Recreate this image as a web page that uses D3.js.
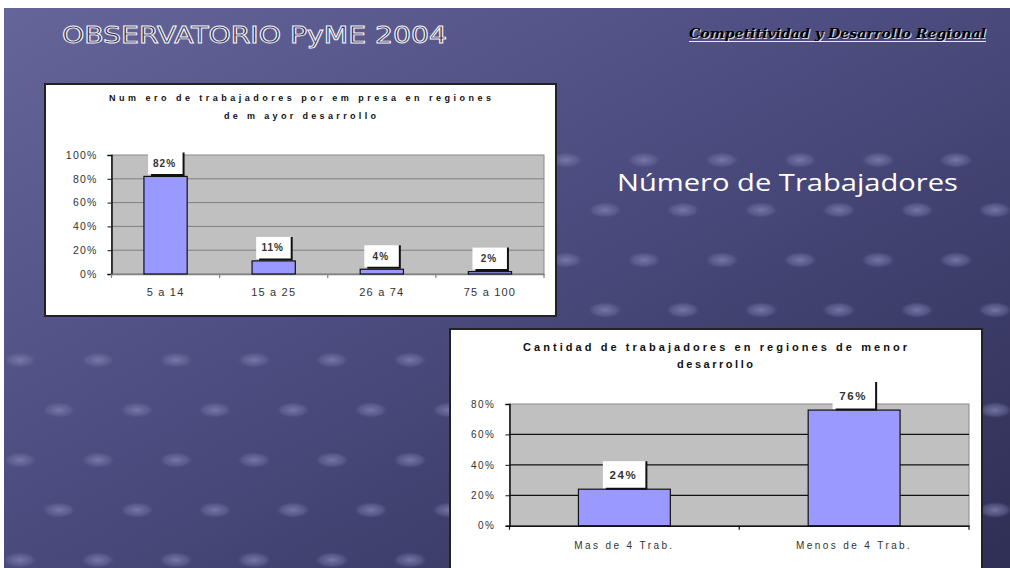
<!DOCTYPE html>
<html><head><meta charset="utf-8">
<script src="https://cdn.jsdelivr.net/npm/d3@7"></script>
<style>html,body{margin:0;padding:0;background:#fff;}svg{display:block;}</style>
</head><body>
<svg id="c" width="1010" height="568"></svg>
<script>
// ---- data ----
const cats1 = ["5 a 14", "15 a 25", "26 a 74", "75 a 100"];
const vals1 = [82, 11, 4, 2];
const ticks1 = [0, 20, 40, 60, 80, 100];
const title1 = ["Num ero de trabajadores por em presa en regiones", "de m ayor desarrollo"];

const cats2 = ["Mas de 4 Trab.", "Menos de 4 Trab."];
const vals2 = [24, 76];
const ticks2 = [0, 20, 40, 60, 80];
const title2 = ["Cantidad de trabajadores en regiones de menor", "desarrollo"];

const svg = d3.select("#c");
const defs = svg.append("defs");
const g = defs.append("linearGradient").attr("id", "bg").attr("x1", "0").attr("y1", "0").attr("x2", "1").attr("y2", "1");
g.append("stop").attr("offset", "0").attr("stop-color", "#65659a");
g.append("stop").attr("offset", "0.45").attr("stop-color", "#4c4c80");
g.append("stop").attr("offset", "1").attr("stop-color", "#2f2f55");
const rg = defs.append("radialGradient").attr("id", "dot");
rg.append("stop").attr("offset", "0").attr("stop-color", "#8080b0").attr("stop-opacity", 0.85);
rg.append("stop").attr("offset", "0.7").attr("stop-color", "#6a6a9c").attr("stop-opacity", 0.5);
rg.append("stop").attr("offset", "1").attr("stop-color", "#55558a").attr("stop-opacity", 0);

svg.append("rect").attr("x", 4).attr("y", 8).attr("width", 1006).attr("height", 560).attr("fill", "url(#bg)");

// decorative soft dots
const dots = [];
for (let r = 0; r < 9; r++) for (let c = 0; c < 14; c++) {
  const x = 20 + c * 78 + (r % 2) * 39, y = 160 + r * 50;
  if (y > 330 || x > 560) dots.push([x, y]);
}
svg.append("g").selectAll("ellipse").data(dots).join("ellipse")
  .attr("cx", d => d[0]).attr("cy", d => d[1]).attr("rx", 17).attr("ry", 8).attr("fill", "url(#dot)");

// header
svg.append("text").attr("x", 62).attr("y", 43).attr("textLength", 385).attr("lengthAdjust", "spacingAndGlyphs")
  .attr("font-family", "DejaVu Sans Condensed, DejaVu Sans, sans-serif").attr("font-stretch", "condensed").attr("font-size", 23)
  .attr("fill", "#30304f").attr("stroke", "#f4f4f8").attr("stroke-width", 0.9)
  .text("OBSERVATORIO PyME 2004");
svg.append("text").attr("x", 690).attr("y", 39).attr("textLength", 297).attr("lengthAdjust", "spacingAndGlyphs")
  .attr("font-family", "DejaVu Serif, serif").attr("font-style", "italic").attr("font-weight", "bold").attr("font-size", 12)
  .attr("fill", "#e0e0e0").text("Competitividad y Desarrollo Regional");
svg.append("text").attr("x", 689).attr("y", 38).attr("textLength", 297).attr("lengthAdjust", "spacingAndGlyphs")
  .attr("font-family", "DejaVu Serif, serif").attr("font-style", "italic").attr("font-weight", "bold").attr("font-size", 12)
  .attr("fill", "#000").text("Competitividad y Desarrollo Regional");
svg.append("line").attr("x1", 689).attr("x2", 986).attr("y1", 41.5).attr("y2", 41.5).attr("stroke", "#e8e8e8").attr("stroke-width", 1.2);
svg.append("text").attr("x", 617).attr("y", 191).attr("textLength", 341).attr("lengthAdjust", "spacingAndGlyphs")
  .attr("font-family", "Open Sans, sans-serif").attr("font-size", 23).attr("fill", "#fff")
  .text("Número de Trabajadores");

function chart(cfg) {
  const G = svg.append("g");
  G.append("rect").attr("x", cfg.box[0]).attr("y", cfg.box[1]).attr("width", cfg.box[2]).attr("height", cfg.box[3])
    .attr("fill", "#fff").attr("stroke", "#222").attr("stroke-width", 2);
  cfg.title.forEach((t, i) => {
    G.append("text").attr("x", cfg.titleX - cfg.titleW[i] / 2).attr("y", cfg.titleY[i])
      .attr("textLength", cfg.titleW[i]).attr("lengthAdjust", "spacing")
      .attr("font-family", "Liberation Sans, Arial, sans-serif").attr("font-weight", "bold").attr("font-size", cfg.titleSize)
      .attr("fill", "#111").text(t);
  });
  const x = d3.scaleBand().domain(cfg.cats).range([cfg.plot[0], cfg.plot[1]]).paddingInner(0.6).paddingOuter(0.3);
  const y = d3.scaleLinear().domain([0, cfg.max]).range([cfg.plot[3], cfg.plot[2]]);
  G.append("rect").attr("x", cfg.plot[0]).attr("y", cfg.plot[2]).attr("width", cfg.plot[1] - cfg.plot[0]).attr("height", cfg.plot[3] - cfg.plot[2])
    .attr("fill", "#c0c0c0").attr("stroke", "#8a8a8a").attr("stroke-width", 1);
  G.append("g").selectAll("line").data(cfg.ticks.filter(t => t > 0 && t < cfg.max)).join("line")
    .attr("x1", cfg.plot[0]).attr("x2", cfg.plot[1]).attr("y1", d => y(d)).attr("y2", d => y(d))
    .attr("stroke", cfg.gridColor).attr("stroke-width", cfg.gridW);
  const ya = G.append("g").attr("transform", `translate(${cfg.plot[0]},0)`)
    .call(d3.axisLeft(y).tickValues(cfg.ticks).tickSize(4).tickPadding(cfg.tickPad).tickFormat(d => d + "%"));
  ya.select(".domain").attr("stroke", "#111").attr("stroke-width", 1.5);
  ya.selectAll(".tick line").attr("stroke", "#111");
  ya.selectAll(".tick text").attr("font-family", "Liberation Sans, Arial, sans-serif").attr("font-size", cfg.tickSize)
    .attr("letter-spacing", cfg.tickLS).attr("fill", "#333");
  const xa = G.append("g").attr("transform", `translate(0,${cfg.plot[3]})`)
    .call(d3.axisBottom(x).tickSize(0).tickPadding(cfg.catPad));
  xa.select(".domain").attr("stroke", cfg.xAxisColor).attr("stroke-width", 1.5);
  xa.selectAll(".tick text").attr("font-family", "Liberation Sans, Arial, sans-serif").attr("font-size", cfg.catSize)
    .attr("letter-spacing", cfg.catLS).attr("fill", "#333");
  const bounds = cfg.cats.map((c, i) => cfg.plot[0] + i * x.step()).concat([cfg.plot[1]]);
  G.append("g").selectAll("line").data(bounds).join("line")
    .attr("x1", d => d).attr("x2", d => d).attr("y1", cfg.plot[3]).attr("y2", cfg.plot[3] + 4)
    .attr("stroke", cfg.xAxisColor).attr("stroke-width", 1.2);
  const data = cfg.cats.map((c, i) => ({ c, v: cfg.vals[i] }));
  G.append("g").selectAll("rect").data(data).join("rect")
    .attr("x", d => x(d.c)).attr("y", d => y(d.v)).attr("width", x.bandwidth()).attr("height", d => y(0) - y(d.v))
    .attr("fill", "#9999ff").attr("stroke", "#111").attr("stroke-width", 1.2);
  const L = G.append("g").selectAll("g").data(data).join("g")
    .attr("transform", d => `translate(${x(d.c) + x.bandwidth() / 2},${y(d.v) - cfg.lblGap})`);
  L.append("rect").attr("x", -cfg.lblW / 2).attr("y", -cfg.lblH).attr("width", cfg.lblW).attr("height", cfg.lblH).attr("fill", "#fff");
  L.append("path").attr("d", `M${-cfg.lblW / 2 + 3},0.5 H${cfg.lblW / 2 + 0.5} V${-cfg.lblH}`)
    .attr("fill", "none").attr("stroke", "#111").attr("stroke-width", 2);
  L.append("text").attr("x", -1).attr("y", -cfg.lblH / 2).attr("dy", "0.35em").attr("text-anchor", "middle")
    .attr("font-family", "Liberation Sans, Arial, sans-serif").attr("font-weight", "bold").attr("font-size", cfg.lblSize)
    .attr("letter-spacing", cfg.lblLS).attr("fill", "#333").text(d => d.v + "%");
}

chart({
  box: [45, 84, 511, 232], title: title1, titleX: 300, titleW: [382, 152], titleY: [101, 119], titleSize: 9,
  cats: cats1, vals: vals1, ticks: ticks1, max: 100, plot: [111.5, 544, 155, 274],
  gridColor: "#808080", gridW: 1, tickSize: 10.5, tickLS: 1.2, tickPad: 10, xAxisColor: "#808080",
  catSize: 11, catLS: 1.2, catPad: 14, lblW: 35, lblH: 22, lblGap: 2, lblSize: 10, lblLS: 1
});
chart({
  box: [450, 329, 532, 245], title: title2, titleX: 715, titleW: [384, 76], titleY: [351, 368], titleSize: 11,
  cats: cats2, vals: vals2, ticks: ticks2, max: 80, plot: [509.5, 969, 404, 525.7],
  gridColor: "#111", gridW: 1.3, tickSize: 10, tickLS: 1.5, tickPad: 10, xAxisColor: "#111",
  catSize: 10, catLS: 2.4, catPad: 16, lblW: 43, lblH: 27, lblGap: 1, lblSize: 11.5, lblLS: 1.5
});
</script>
</body></html>
